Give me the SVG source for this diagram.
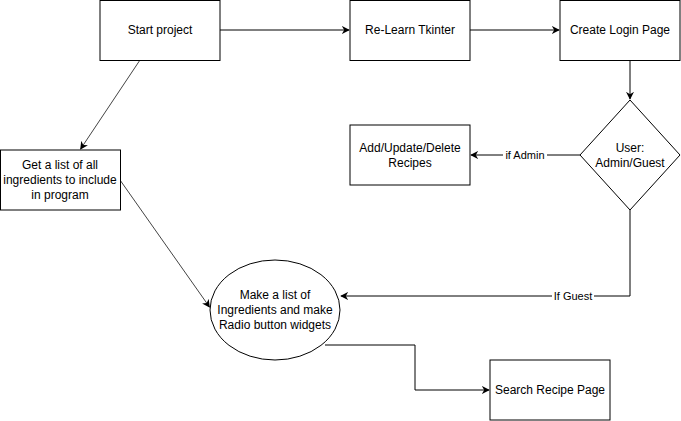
<svg xmlns="http://www.w3.org/2000/svg" width="681" height="421" viewBox="0 0 681 421">
<style>
.n{fill:#fff;stroke:#000;stroke-width:1}
.t{font-family:"Liberation Sans",Arial,sans-serif;font-size:12px;fill:#000;text-anchor:middle}
.l{font-family:"Liberation Sans",Arial,sans-serif;font-size:11px;fill:#000;text-anchor:middle}
.e{fill:none;stroke:#000;stroke-width:1;marker-end:url(#a)}
.g{stroke:#444}
</style>
<defs>
<marker id="a" viewBox="0 0 10 10" refX="9" refY="5" markerWidth="8" markerHeight="8" markerUnits="userSpaceOnUse" orient="auto">
<path d="M0,0 L10,5 L0,10 L3,5 Z" fill="#000"/>
</marker>
</defs>
<rect width="681" height="421" fill="#fff"/>
<g id="connectors">
<path class="e" d="M220,30 L349,30"/>
<path class="e" d="M470,30 L559,30"/>
<path class="e" d="M630,60 L630,99"/>
<path class="e" d="M580,155 L471,155"/>
<path class="e" d="M630,210 L630,296 L341,296"/>
<path class="e g" d="M140,60 L80.6,149"/>
<path class="e g" d="M120,180 L209.5,307"/>
<path class="e" d="M325,345 L415,345 L415,390 L489,390"/>
<rect x="503" y="148" width="44" height="14" fill="#fff"/>
<text class="l" x="525" y="159">if Admin</text>
<rect x="552" y="289" width="42" height="14" fill="#fff"/>
<text class="l" x="573" y="300">If Guest</text>
</g>
<g id="start">
<rect class="n" x="100" y="0.5" width="120" height="60"/>
<text class="t" x="160" y="34">Start project</text>
</g>
<g id="relearn">
<rect class="n" x="350" y="0.5" width="120" height="60"/>
<text class="t" x="410" y="34">Re-Learn Tkinter</text>
</g>
<g id="login">
<rect class="n" x="560" y="0.5" width="120" height="60"/>
<text class="t" x="620" y="34">Create Login Page</text>
</g>
<g id="user">
<path class="n" d="M630,100 L680,155 L630,210 L580,155 Z"/>
<text class="t" x="630" y="152">User:</text>
<text class="t" x="630" y="167">Admin/Guest</text>
</g>
<g id="admin">
<rect class="n" x="350" y="125" width="120" height="60"/>
<text class="t" x="410" y="152">Add/Update/Delete</text>
<text class="t" x="410" y="167">Recipes</text>
</g>
<g id="getlist">
<rect class="n" x="0.5" y="150" width="120" height="60"/>
<text class="t" x="60" y="169">Get a list of all</text>
<text class="t" x="60" y="184">ingredients to include</text>
<text class="t" x="60" y="199">in program</text>
</g>
<g id="makelist">
<ellipse class="n" cx="275" cy="310" rx="65" ry="50"/>
<text class="t" x="275" y="299">Make a list of</text>
<text class="t" x="275" y="314">Ingredients and make</text>
<text class="t" x="275" y="329">Radio button widgets</text>
</g>
<g id="search">
<rect class="n" x="490" y="360" width="120" height="60"/>
<text class="t" x="550" y="394">Search Recipe Page</text>
</g>
</svg>
